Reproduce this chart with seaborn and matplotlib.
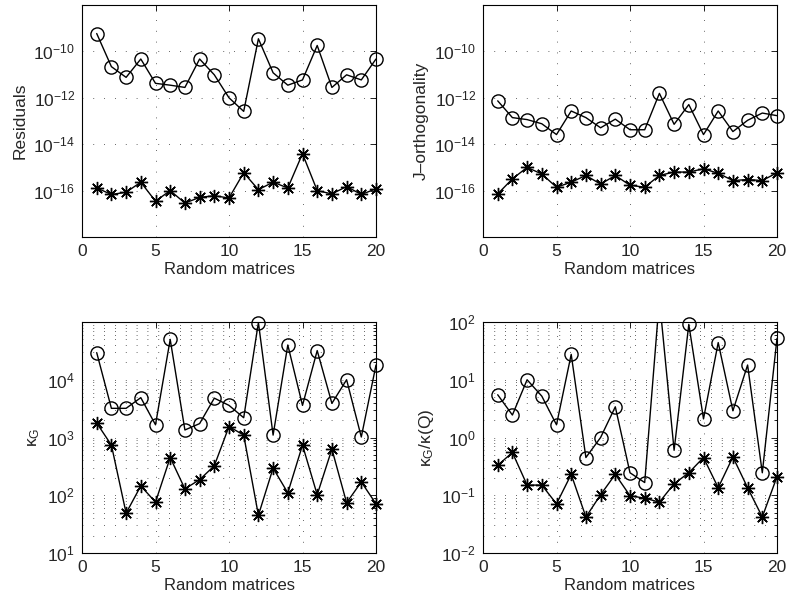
import matplotlib
matplotlib.use("Agg")
import matplotlib.pyplot as plt
import seaborn as sns
import pandas as pd
from matplotlib.ticker import NullLocator, LogLocator

matrices = list(range(1, 21))

# top left: residuals
resid_circ = [5.9e-10, 2.2e-11, 7.6e-12, 4.7e-11, 4.2e-12, 3.5e-12, 2.8e-12, 4.7e-11, 9.8e-12, 1.0e-12,
              2.6e-13, 3.5e-10, 1.2e-11, 3.5e-12, 5.9e-12, 1.8e-10, 2.8e-12, 9.8e-12, 5.9e-12, 4.7e-11]
resid_star = [1.3e-16, 6.8e-17, 8.5e-17, 2.3e-16, 3.5e-17, 1.0e-16, 2.9e-17, 5.1e-17, 6.0e-17, 4.8e-17,
              5.9e-16, 1.1e-16, 2.3e-16, 1.3e-16, 3.9e-15, 1.0e-16, 7.2e-17, 1.5e-16, 6.8e-17, 1.2e-16]

# top right: J-orthogonality
jorth_circ = [7.4e-13, 1.4e-13, 1.15e-13, 7.6e-14, 2.6e-14, 2.7e-13, 1.4e-13, 5.1e-14, 1.2e-13, 4.2e-14,
              4.2e-14, 1.55e-12, 7.2e-14, 5.1e-13, 2.6e-14, 2.7e-13, 3.5e-14, 1.07e-13, 2.2e-13, 1.7e-13]
jorth_star = [7.2e-17, 3.2e-16, 1.0e-15, 5.2e-16, 1.4e-16, 2.3e-16, 4.5e-16, 1.9e-16, 4.5e-16, 1.7e-16,
              1.4e-16, 4.5e-16, 6.3e-16, 6.3e-16, 8.7e-16, 5.6e-16, 2.7e-16, 3.0e-16, 2.7e-16, 5.9e-16]

# bottom left: kappa_G
kappa_circ = [29500, 3200, 3200, 4900, 1660, 50000, 1350, 1740, 4800, 3600,
              2200, 98000, 1100, 40000, 3600, 32000, 3900, 10000, 1020, 18000]
kappa_star = [1780, 740, 49, 145, 76, 450, 129, 186, 324, 1550,
              1100, 45, 295, 110, 740, 102, 630, 74, 170, 71]

# bottom right: kappa_G / kappa(Q)
ratio_circ = [5.5, 2.45, 10, 5.2, 1.66, 27.5, 0.45, 1.0, 3.4, 0.245,
              0.166, 250, 0.60, 91, 2.1, 44, 2.9, 18, 0.245, 52]
ratio_star = [0.33, 0.55, 0.15, 0.15, 0.071, 0.23, 0.042, 0.102, 0.23, 0.098,
              0.089, 0.076, 0.158, 0.245, 0.45, 0.135, 0.46, 0.135, 0.042, 0.21]

sns.set_style("white")
plt.rcParams["font.family"] = ["Liberation Sans", "DejaVu Sans"]
plt.rcParams["mathtext.fontset"] = "custom"
plt.rcParams["mathtext.rm"] = "Liberation Sans"
plt.rcParams["mathtext.it"] = "Liberation Sans:italic"
plt.rcParams["font.size"] = 12

W, H = 786, 601
fig = plt.figure(figsize=(W / 100, H / 100), dpi=100)

def make_ax(left, top, w, h):
    return fig.add_axes([left / W, (H - top - h) / H, w / W, h / H])

grid_kw = dict(color="0.2", lw=0.6, ls=(0, (1, 12)))

panels = [
    (make_ax(82, 5, 294, 232), resid_circ, resid_star, "Residuals",
     (1e-18, 1e-8), [1e-16, 1e-14, 1e-12, 1e-10], False),
    (make_ax(483, 5, 294, 232), jorth_circ, jorth_star, "J\u2013orthogonality",
     (1e-18, 1e-8), [1e-16, 1e-14, 1e-12, 1e-10], False),
    (make_ax(82, 322, 294, 231), kappa_circ, kappa_star, "\u03ba$_\\mathregular{G}$",
     (10, 1e5), [1e1, 1e2, 1e3, 1e4], True),
    (make_ax(483, 322, 294, 231), ratio_circ, ratio_star, "\u03ba$_\\mathregular{G}$/\u03ba(Q)",
     (1e-2, 1e2), [1e-2, 1e-1, 1e0, 1e1, 1e2], True),
]

for ax, circ, star, ylabel, ylim, yticks, minor in panels:
    df = pd.DataFrame({"m": matrices, "circ": circ, "star": star})
    # connecting lines are clipped, markers inside the limits are not (MATLAB look)
    sns.lineplot(data=df, x="m", y="circ", ax=ax, color="k", lw=1.0)
    sns.lineplot(data=df, x="m", y="star", ax=ax, color="k", lw=1.0)
    inside = df[(df.circ >= ylim[0]) & (df.circ <= ylim[1] * 1.01)]
    sns.lineplot(data=inside, x="m", y="circ", ax=ax, ls="", marker="o", clip_on=False,
                 markersize=9.5, markerfacecolor="none", markeredgecolor="k", markeredgewidth=1.0)
    sns.lineplot(data=df, x="m", y="star", ax=ax, ls="", marker=(8, 2, 0), clip_on=False,
                 markersize=9.5, color="k", markeredgecolor="k", markeredgewidth=1.0)
    ax.set_yscale("log")
    ax.set_ylim(*ylim)
    ax.set_xlim(0, 20)
    ax.set_xticks([0, 5, 10, 15, 20])
    ax.set_yticks(yticks)
    if minor:
        ax.yaxis.set_minor_locator(LogLocator(base=10, subs=range(2, 10)))
        ax.grid(True, which="minor", axis="y", **grid_kw)
    else:
        ax.yaxis.set_minor_locator(NullLocator())
    ax.grid(True, which="major", **grid_kw)
    ax.set_xlabel("Random matrices", fontsize=12, labelpad=2)
    ax.set_ylabel(ylabel, fontsize=12.5, labelpad=4)
    ax.tick_params(which="both", direction="in", top=True, right=True,
                   labelsize=12.5, color="k", width=0.6)
    ax.tick_params(which="major", length=4, pad=5)
    ax.tick_params(which="minor", length=2)
    for s in ax.spines.values():
        s.set_color("k")
        s.set_linewidth(0.8)

fig.savefig("out.png", dpi=100)
